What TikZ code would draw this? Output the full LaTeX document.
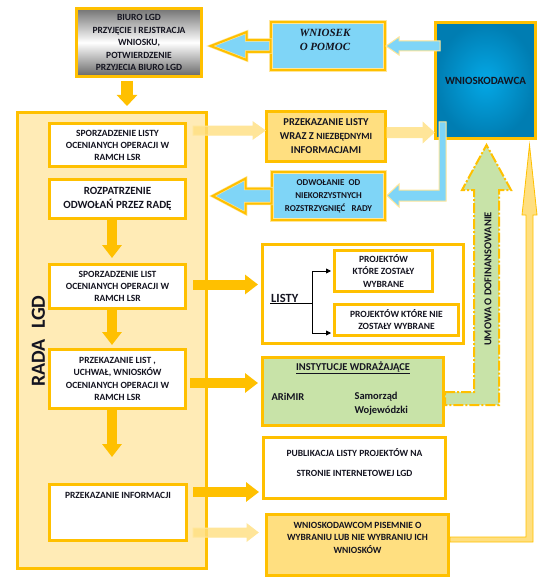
\documentclass[tikz,border=0pt]{standalone}
\usepackage{fontspec}
\setmainfont{Carlito}
\newfontfamily\timesfont{Liberation Serif}
\usetikzlibrary{arrows.meta}
\definecolor{lgdyellow}{HTML}{FFC000}
\definecolor{radafill}{HTML}{FFEBB6}
\definecolor{listfill}{HTML}{FFDF80}
\definecolor{paleyellow}{HTML}{FFE699}
\definecolor{skyblue}{HTML}{7FD5F7}
\definecolor{instgreen}{HTML}{C8E3A8}
\definecolor{deepblue}{HTML}{007DB2}
\definecolor{midblue}{HTML}{04A8E6}
\definecolor{inktext}{HTML}{141420}
\tikzset{
  box/.style={draw=lgdyellow, line width=3pt, fill=white, inner sep=0pt, text=inktext, align=center},
  dblbox/.style={draw=paleyellow, double=lgdyellow, double distance=2.4pt, line width=0.7pt, fill=skyblue, inner sep=0pt, align=center},
  smalltxt/.style={font=\bfseries\fontsize{9.5}{12}\selectfont, text=inktext, align=center},
  fatarrow/.style={draw=lgdyellow, line width=10pt, -{Triangle[width=19pt,length=13pt]}},
  lightarrow/.style={fill=listfill, fill opacity=0.8, draw=paleyellow, line width=1pt},
  bluearrow/.style={fill=skyblue, draw=paleyellow, line width=1pt},
  bigblue/.style={fill=skyblue, draw=paleyellow, double=lgdyellow, double distance=2pt, line width=0.6pt, line join=miter},
  forkarrow/.style={draw=black, line width=0.8pt, -{Triangle[length=5pt,width=5pt]}, shorten >=2pt},
}
\begin{document}
\begin{tikzpicture}[x=1pt,y=-1pt]
\useasboundingbox (0,0) rectangle (547,583);
% rada lgd
\node[box, fill=radafill, minimum width=189, minimum height=456] (rada) at (112,340.5) {};
\node[rotate=90, font=\bfseries\fontsize{20}{24}\selectfont, text=inktext] (radatxt) at (38.5,341) {RADA\hspace{10pt}LGD};
\node[box, smalltxt, minimum width=136, minimum height=43] (s1) at (117.5,145) {SPORZADZENIE LISTY\\OCENIANYCH OPERACJI W\\RAMCH LSR};
\node[box, font=\bfseries\fontsize{11}{14}\selectfont, minimum width=136, minimum height=39] (s2) at (117.5,199) {ROZPATRZENIE\\ODWOŁAŃ PRZEZ RADĘ};
\node[box, smalltxt, minimum width=136, minimum height=44] (s3) at (117.5,286.5) {SPORZADZENIE LIST\\OCENIANYCH OPERACJI W\\RAMCH LSR};
\node[box, smalltxt, font=\bfseries\fontsize{9.5}{12.5}\selectfont, minimum width=136, minimum height=59] (s4) at (117.5,379) {PRZEKAZANIE LIST ,\\UCHWAŁ, WNIOSKÓW\\OCENIANYCH OPERACJI W\\RAMCH LSR};
\node[box, minimum width=137, minimum height=56] (info) at (118,512.5) {};
\node[smalltxt] at ([yshift=-12pt]info.north) {PRZEKAZANIE INFORMACJI};
% biuro
\node[box, smalltxt, font=\bfseries\fontsize{9.5}{12.5}\selectfont, minimum width=125, minimum height=68, top color=black!55, bottom color=black!60, middle color=white] (biuro) at (139,42.5) {BIURO LGD\\PRZYJĘCIE I REJSTRACJA\\WNIOSKU,\\POTWIERDZENIE\\PRZYJECIA BIURO LGD};
% right column
\node[dblbox, minimum width=114, minimum height=48] (wniosek) at (328,46) {};
\node[font=\timesfont\bfseries\itshape\fontsize{11}{14}\selectfont, text=inktext, align=center] at (325,40) {WNIOSEK\\O POMOC};
\node[box, inner color=midblue, outer color=deepblue, minimum width=100, minimum height=116, font=\bfseries\fontsize{11}{13}\selectfont] (wdca) at (485.5,80.5) {WNIOSKODAWCA};
\node[box, fill=listfill, font=\bfseries\fontsize{10.5}{14}\selectfont, minimum width=119, minimum height=50] (przek) at (326,136.5) {PRZEKAZANIE LISTY\\WRAZ Z {\fontsize{9.5}{14}\selectfont NIEZBĘDNYMI}\\INFORMACJAMI};
\node[dblbox, text=inktext, font=\bfseries\fontsize{9}{13}\selectfont, minimum width=113, minimum height=48] (odw) at (328.5,196) {ODWOŁANIE\ \ OD\\NIEKORZYSTNYCH\\ROZSTRZYGNIĘĆ\ \ \ RADY};
\node[box, minimum width=201, minimum height=99] (listy) at (363,294) {};
\node[font=\bfseries\fontsize{12.5}{14}\selectfont, text=inktext, inner sep=1pt, anchor=base west] (listylbl) at (270,302) {LISTY};
\node[box, font=\bfseries\fontsize{9.5}{12.5}\selectfont, minimum width=98, minimum height=41] (p1) at (383.5,271) {PROJEKTÓW\\KTÓRE ZOSTAŁY\\WYBRANE};
\node[box, font=\bfseries\fontsize{9.5}{12}\selectfont, minimum width=124, minimum height=31] (p2) at (396.5,320) {PROJEKTÓW KTÓRE NIE\\ZOSTAŁY WYBRANE};
\node[box, fill=instgreen, minimum width=181, minimum height=68] (inst) at (353,391.5) {};
\node[font=\bfseries\fontsize{10.5}{12}\selectfont, text=inktext] at (353,368) {\underline{INSTYTUCJE WDRAŻAJĄCE}};
\node[font=\bfseries\fontsize{10.5}{12}\selectfont, text=inktext, anchor=west] at (268,397) {ARiMIR};
\node[font=\bfseries\fontsize{10.5}{14}\selectfont, text=inktext, anchor=west, align=left] at (351,404) {Samorząd\\Wojewódzki};
\node[box, minimum width=182, minimum height=61] (publ) at (354.5,468) {};
\node[smalltxt] at ([yshift=-27pt]publ.north) {PUBLIKACJA LISTY PROJEKTÓW NA\\[8pt]STRONIE INTERNETOWEJ LGD};
\node[box, fill=listfill, minimum width=182, minimum height=61] (wdc) at (357.5,545) {};
\node[smalltxt, font=\bfseries\fontsize{9.5}{12.5}\selectfont] at ([yshift=-24.5pt]wdc.north) {WNIOSKODAWCOM PISEMNIE O\\WYBRANIU LUB NIE WYBRANIU ICH\\WNIOSKÓW};
% listy fork
\draw[line width=0.8pt] (listylbl.south west) -- (listylbl.south east) -- ++(13,0) coordinate (fork);
\draw[forkarrow] (fork) |- (p1.west);
\draw[forkarrow] (fork) |- ([yshift=4pt]p2.south west);
% solid arrows
\draw[fatarrow, line width=12pt, -{Triangle[width=20pt,length=11pt]}] ([xshift=-12pt,yshift=-3pt]biuro.south) -- ([xshift=-12pt,yshift=5pt]biuro.south |- rada.north);
\draw[fatarrow] ([xshift=-5.5pt]s2.south) -- ([xshift=-5.5pt,yshift=5pt]s3.north);
\draw[fatarrow] ([xshift=-5.5pt]s3.south) -- ([xshift=-5.5pt,yshift=3pt]s4.north);
\draw[fatarrow] ([xshift=-5.5pt]s4.south) -- ++(0,47);
\draw[fatarrow] ([xshift=6pt,yshift=2pt]s3.east) -- ([xshift=-3pt,yshift=2pt]s3.east -| listy.west);
\draw[fatarrow] ([xshift=3pt,yshift=-4pt]s4.east) -- ([xshift=-3pt,yshift=-4pt]s4.east -| inst.west);
\draw[fatarrow] ([xshift=5pt,yshift=-9pt]info.north east) -- ([xshift=-3pt,yshift=-9pt]info.north east -| publ.west);
% light arrows
\draw[lightarrow] ([xshift=6pt,yshift=19pt]s1.east) -- ++(60,0) -- ++(0,-4) -- ++(12,8.5) -- ++(-12,8.5) -- ++(0,-4) -- ++(-60,0) -- cycle;
\draw[lightarrow] ([yshift=9pt]przek.east) -- ++(36,0) -- ++(0,-5) -- ++(11,10) -- ++(-11,10) -- ++(0,-5) -- ++(-36,0) -- cycle;
\draw[lightarrow] ([xshift=5pt,yshift=-45pt]info.north east) -- ++(54,0) -- ++(0,-4) -- ++(11,8.5) -- ++(-11,8.5) -- ++(0,-4) -- ++(-54,0) -- cycle;
% blue arrows
\draw[bluearrow] ([xshift=6pt,yshift=39.5pt]wdca.west) -- ++(-41,0) -- ++(0,-4) -- ++(-13,9) -- ++(13,9) -- ++(0,-4) -- ++(41,0) -- cycle;
\draw[bluearrow] ([xshift=5pt,yshift=18pt]wdca.south west) -- ++(7,0) -- ++(0,79) -- ++(-47,0) -- ++(0,6) -- ++(-12,-11.5) -- ++(12,-11.5) -- ++(0,6) -- ++(40,0) -- cycle;
\draw[bigblue] ([yshift=6pt]wniosek.west) -- ++(-24,0) -- ++(0,-8) -- ++(-36,14) -- ++(36,14) -- ++(0,-8) -- ++(24,0) -- cycle;
\draw[bigblue] ([yshift=7.5pt]odw.west) -- ++(-26,0) -- ++(0,-10) -- ++(-33,17.5) -- ++(33,17.5) -- ++(0,-10) -- ++(26,0) -- cycle;
% umowa
\draw[fill=instgreen, draw=lgdyellow, line width=2pt, dash pattern=on 10pt off 2pt on 2pt off 2pt] ([yshift=-0.5pt]inst.east) -- ++(29,0) -- ++(0,-202) -- ++(-12,0) -- ++(24.5,-45) -- ++(24.5,45) -- ++(-12,0) -- ++(0,215) -- ++(-54,0) -- cycle;
\node[rotate=90, font=\bfseries\fontsize{10.5}{12}\selectfont, text=inktext] (umowa) at (488,279) {UMOWA O DOFINANSOWANIE};
\draw[fill=listfill, draw=lgdyellow, line width=0.8pt] ([yshift=8pt]wdc.east) -- ++(76,0) -- ++(0,-322) -- ++(-4,0) -- ++(7.5,-70) -- ++(7.5,70) -- ++(-4,0) -- ++(0,327) -- ++(-83,0) -- cycle;
\end{tikzpicture}
\end{document}
